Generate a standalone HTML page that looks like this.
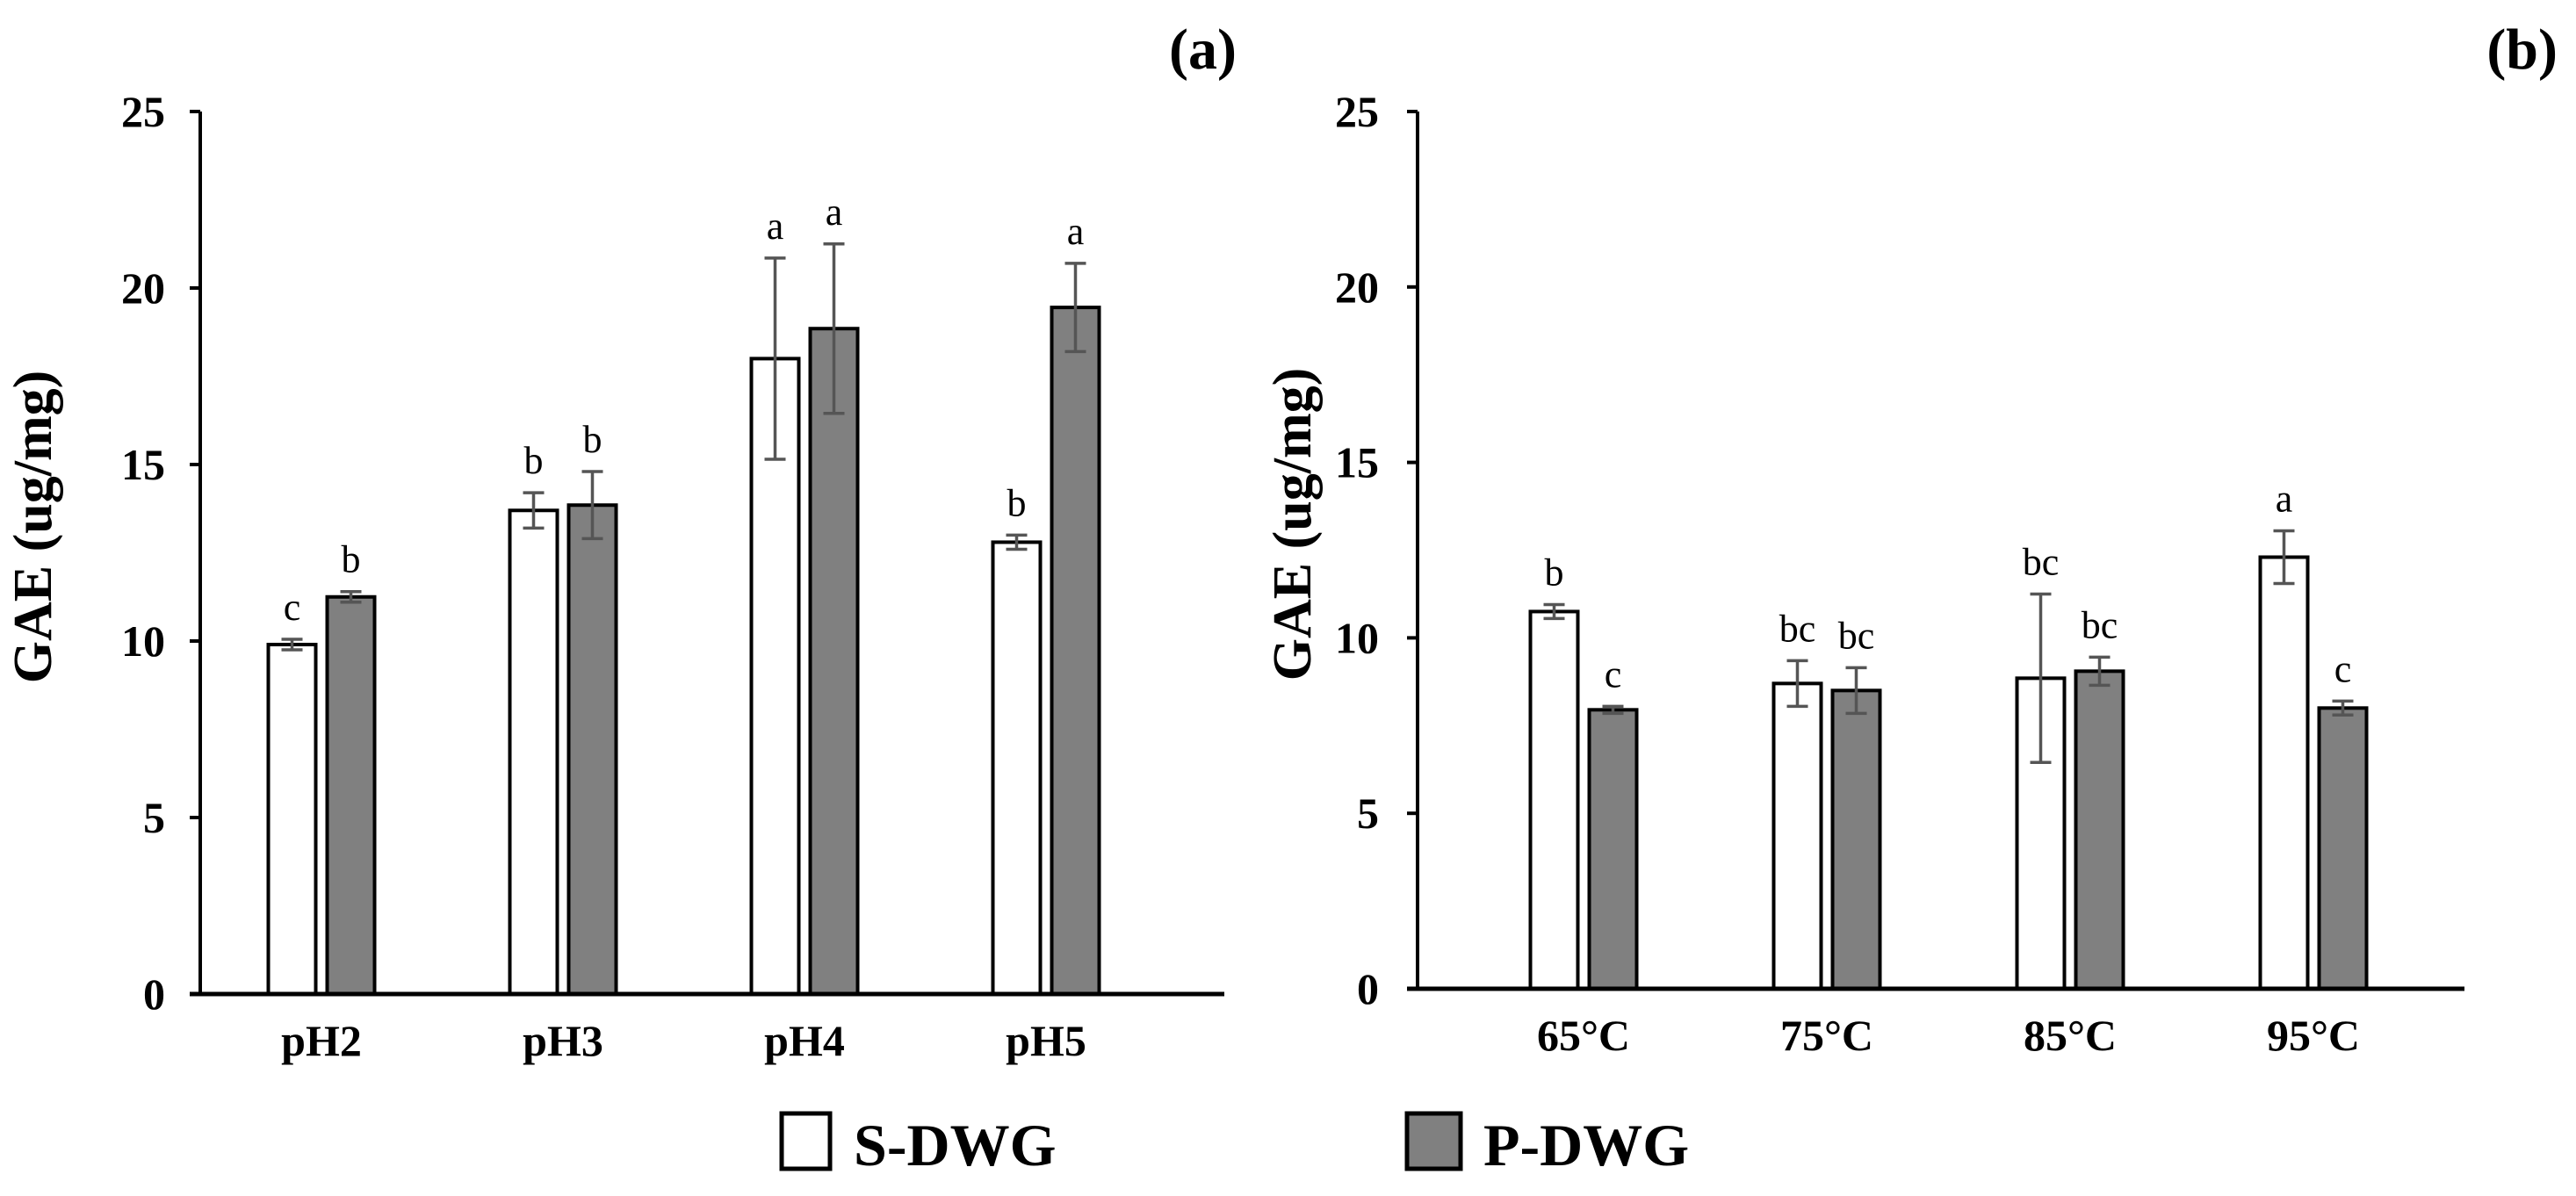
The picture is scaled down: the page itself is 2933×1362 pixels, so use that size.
<!DOCTYPE html>
<html><head><meta charset="utf-8"><style>
html,body{margin:0;padding:0;background:#fff;overflow:hidden;}
svg{display:block;font-family:"Liberation Serif",serif;}
</style></head><body>
<svg id="chart" width="2933" height="1362" viewBox="0 0 2933 1362" xmlns="http://www.w3.org/2000/svg">
<rect width="2933" height="1362" fill="#fff"/>
<g id="pa"></g>
<g id="pb"></g>
<g>
  <g>
    <rect x="890" y="1268" width="55" height="63" fill="#fff" stroke="#000" stroke-width="5"/>
    <text x="972" y="1327" font-size="68" font-weight="bold">S-DWG</text>
  </g>
  <g>
    <rect x="1602" y="1268" width="61" height="63" fill="#808080" stroke="#000" stroke-width="5"/>
    <text x="1689" y="1327" font-size="68" font-weight="bold">P-DWG</text>
  </g>
</g>
</svg>
<script>
const NS="http://www.w3.org/2000/svg";
const yTicks=[0,5,10,15,20,25];
const catsA=["pH2","pH3","pH4","pH5"];
const sA=[9.9,13.7,18.0,12.8];
const pA=[11.25,13.85,18.85,19.45];
const sErrA=[0.15,0.5,2.85,0.2];
const pErrA=[0.15,0.95,2.4,1.25];
const sLetA=["c","b","a","b"];
const pLetA=["b","b","a","a"];
const catsB=["65°C","75°C","85°C","95°C"];
const sB=[10.75,8.7,8.85,12.3];
const pB=[7.95,8.5,9.05,8.0];
const sErrB=[0.2,0.65,2.4,0.75];
const pErrB=[0.1,0.65,0.4,0.2];
const sLetB=["b","bc","bc","a"];
const pLetB=["c","bc","bc","c"];

function mk(tag,attrs,parent){const e=document.createElementNS(NS,tag);for(const k in attrs)e.setAttribute(k,attrs[k]);parent.appendChild(e);return e;}

function panel(g,cfg,cats,s,p,se,pe,sl,pl,tag){
  const y=v=>cfg.y0-(cfg.y0-cfg.y25)*v/25;
  const x=i=>cfg.c0+i*cfg.step;
  const ya=mk("line",{x1:cfg.ax,y1:cfg.y25,x2:cfg.ax,y2:cfg.y0,stroke:"#000","stroke-width":4},g);
  
  
  yTicks.forEach(t=>{
    const tk=mk("line",{x1:cfg.ax-12,y1:y(t),x2:cfg.ax,y2:y(t),stroke:"#000","stroke-width":4},g);
    
    
    const tl=mk("text",{x:cfg.tlx,y:y(t)+17,"font-size":50,"font-weight":"bold","text-anchor":"end"},g);
    tl.textContent=t;
    
    
  });
  const tt=mk("text",{x:0,y:0,"font-size":62,"font-weight":"bold","text-anchor":"middle",transform:`translate(${cfg.tx},${cfg.ty}) rotate(-90)`},g);
  tt.textContent="GAE (ug/mg)";
  
  
  const pl2=mk("text",{x:cfg.lx,y:78,"font-size":66,"font-weight":"bold","text-anchor":"end"},g);
  pl2.textContent=tag;
  
  
  const bw=54,gap=13;
  cats.forEach((c,i)=>{
    const cx=x(i);
    [[s[i],se[i],sl[i],"#fff",cx-gap/2-bw,"bar-s-dwg"],[p[i],pe[i],pl[i],"#808080",cx+gap/2,"bar-p-dwg"]].forEach(([v,e,l,f,bx,nm])=>{
      const r=mk("rect",{x:bx,y:y(v),width:bw,height:cfg.y0-y(v),fill:f,stroke:"#000","stroke-width":4},g);
      
      
      const mx=bx+bw/2;
      const eb=mk("path",{d:`M${mx},${y(v+e)}V${y(v-e)}M${mx-12},${y(v+e)}H${mx+12}M${mx-12},${y(v-e)}H${mx+12}`,stroke:"#555","stroke-width":3.5,fill:"none"},g);
      
      
      const lt=mk("text",{x:mx,y:y(v+e)-22,"font-size":44,"text-anchor":"middle"},g);
      lt.textContent=l;
      
      
    });
    const cl=mk("text",{x:cx,y:cfg.y0+70,"font-size":50,"font-weight":"bold","text-anchor":"middle"},g);
    cl.textContent=c;
    
    
  });
  const xa=mk("line",{x1:cfg.ax-12,y1:cfg.y0,x2:cfg.xe,y2:cfg.y0,stroke:"#000","stroke-width":5},g);
  
  
}
panel(document.getElementById("pa"),{ax:228,y0:1132,y25:127,xe:1394,c0:366,step:275,tx:58,ty:600,tlx:188,lx:1408},catsA,sA,pA,sErrA,pErrA,sLetA,pLetA,"(a)");
panel(document.getElementById("pb"),{ax:1614,y0:1126,y25:127,xe:2806,c0:1803,step:277,tx:1492,ty:597,tlx:1570,lx:2912},catsB,sB,pB,sErrB,pErrB,sLetB,pLetB,"(b)");
</script>
</body></html>
